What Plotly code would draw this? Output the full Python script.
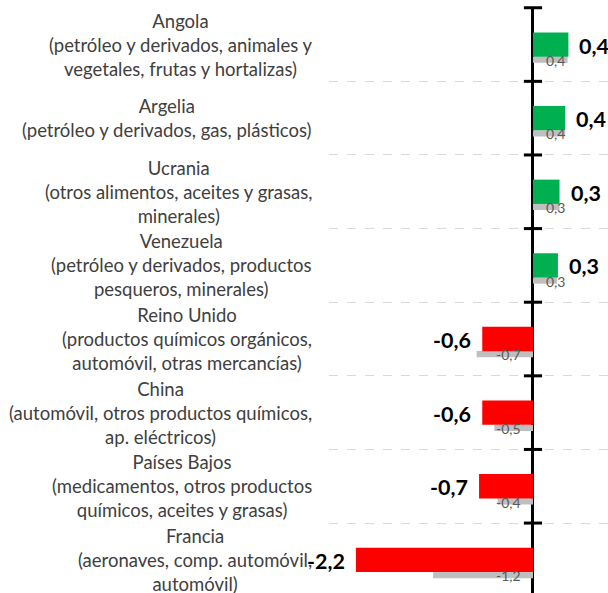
import plotly.graph_objects as go

# ---- data ----
countries = ["Angola", "Argelia", "Ucrania", "Venezuela",
             "Reino Unido", "China", "Países Bajos", "Francia"]
products = [
    ["(petróleo y derivados, animales y", "vegetales, frutas y hortalizas)"],
    ["(petróleo y derivados, gas, plásticos)"],
    ["(otros alimentos, aceites y grasas,", "minerales)"],
    ["(petróleo y derivados, productos", "pesqueros, minerales)"],
    ["(productos químicos orgánicos,", "automóvil, otras mercancías)"],
    ["(automóvil, otros productos químicos,", "ap. eléctricos)"],
    ["(medicamentos, otros productos", "químicos, aceites y grasas)"],
    ["(aeronaves, comp. automóvil,", "automóvil)"],
]
current_values = [0.44, 0.40, 0.33, 0.31, -0.63, -0.63, -0.67, -2.2]
previous_values = [0.43, 0.40, 0.33, 0.30, -0.70, -0.48, -0.44, -1.24]

# ---- styling ----
GREEN = "#00B050"
RED = "#FF0000"
GREY = "#BFBFBF"
FONT = "Lato"


def fmt(v):
    return f"{v:.1f}".replace(".", ",")


n = len(countries)
pos = list(range(n))
boundaries = [i - 0.5 for i in pos]

fig = go.Figure()

# previous period (thin grey bars)
fig.add_trace(go.Bar(
    orientation="h", x=previous_values, y=pos,
    width=0.085, offset=0.163,
    marker=dict(color=GREY, line=dict(width=0)),
    hoverinfo="skip", showlegend=False,
))
# current period
fig.add_trace(go.Bar(
    orientation="h", x=current_values, y=pos,
    width=0.33,
    marker=dict(color=[GREEN if v >= 0 else RED for v in current_values],
                line=dict(width=0)),
    hoverinfo="skip", showlegend=False,
))
# cross tick marks on the zero axis
fig.add_trace(go.Scatter(
    x=[0] * n, y=boundaries, mode="markers",
    marker=dict(symbol="line-ew", size=13,
                line=dict(width=3, color="black")),
    hoverinfo="skip", showlegend=False, cliponaxis=False,
))

annotations = []
for i, (c, p, v, pv) in enumerate(zip(countries, products, current_values, previous_values)):
    # category label
    annotations.append(dict(
        xref="paper", x=0, yref="y", y=i, xanchor="right", yanchor="middle",
        xshift=-15, align="center", showarrow=False,
        text="<br>".join([c] + p),
        font=dict(family=FONT, size=18.5, color="#404040"),
    ))
    # bold value label
    annotations.append(dict(
        xref="x", x=v, yref="y", y=i,
        xanchor="left" if v >= 0 else "right", yanchor="middle",
        xshift=9 if v >= 0 else -9, yshift=-1, showarrow=False,
        text=fmt(v),
        font=dict(family=FONT, size=21.5, color="black", weight="bold"),
    ))
    # small previous-period label
    annotations.append(dict(
        xref="x", x=0, yref="y", y=i + 0.215,
        xanchor="left" if pv >= 0 else "right", yanchor="middle",
        xshift=11 if pv >= 0 else -10, showarrow=False,
        text=fmt(pv),
        font=dict(family=FONT, size=14, color="#595959"),
    ))

fig.update_layout(
    width=608, height=593,
    margin=dict(l=329, r=0, t=7, b=0),
    paper_bgcolor="white", plot_bgcolor="white",
    barmode="overlay",
    annotations=annotations,
    xaxis=dict(range=[-2.534, 0.932], showgrid=False, showticklabels=False,
               ticks="", zeroline=True, zerolinecolor="black",
               zerolinewidth=3, showline=False, fixedrange=True),
    yaxis=dict(range=[7.45, -0.51], tickvals=boundaries, showticklabels=False,
               ticks="", showgrid=True, gridcolor="#D9D9D9", gridwidth=1,
               griddash="dash", zeroline=False, showline=False, fixedrange=True),
)

fig.write_html(
    "out.html",
    config=dict(displayModeBar=False),
    post_script="document.body.style.margin='0';document.body.style.overflow='hidden';",
)
